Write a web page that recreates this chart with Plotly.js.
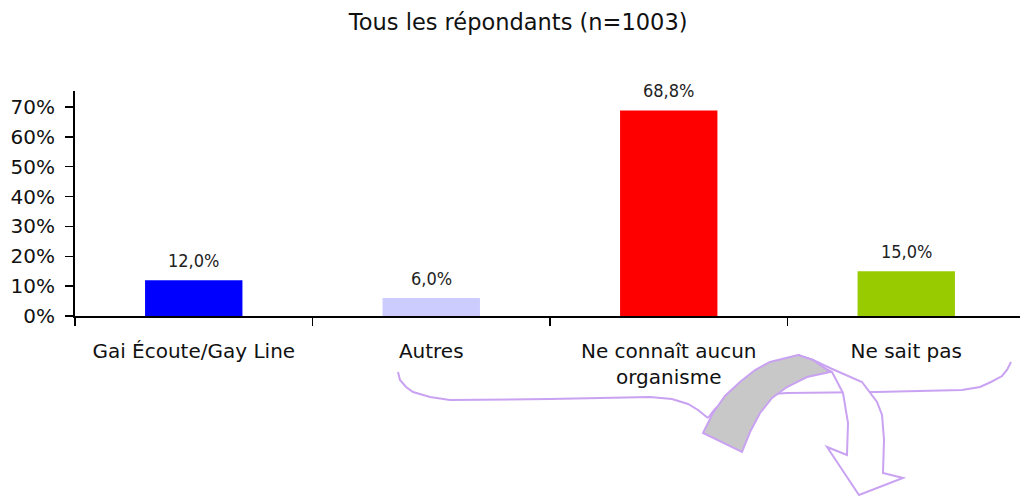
<!DOCTYPE html>
<html>
<head>
<meta charset="utf-8">
<script src="https://cdn.plot.ly/plotly-3.0.1.min.js"></script>
<style>
  html, body { margin: 0; padding: 0; background: #fff; }
  #chart { width: 1020px; height: 497px; }
</style>
</head>
<body>
<div id="chart"></div>
<script>
const categories = ['Gai Écoute/Gay Line', 'Autres', 'Ne connaît aucun<br>organisme', 'Ne sait pas'];
const values = [12.0, 6.0, 68.8, 15.0];
const barColors = ['#0000ff', '#ccccff', '#ff0000', '#99cc00'];
const yTicks = [0, 10, 20, 30, 40, 50, 60, 70];

// plot box in pixels, used to place the hand-drawn decorations
const L = 75, T = 91, W = 945, H = 225;
function px(x, y) {
    return ((x - L) / W).toFixed(4) + ',' + ((T + H - y) / H).toFixed(4);
}
function path(points, close) {
    let d = 'M' + points.map(p => px(p[0], p[1])).join(' L');
    return close ? d + ' Z' : d;
}

const lav = '#c9a2f2';

const braceLeft = [[398,372],[400,380],[406,387],[413,392],[430,397],[450,400],[550,399],[650,397],[672,399],[688,404],[698,410],[708,418]];
const braceRight = [[708,418],[715,409],[724,402],[760,395],[787,393],[876,392],[962,390],[980,387],[991,382],[1002,376],[1007,370],[1011,362]];
const greyBand = [[703,433],[713,413],[725,396],[740,382],[755,370],[770,362],[798,355],[813,360],[830,372],
                  [807,377],[787,387],[772,398],[760,413],[750,432],[742,452]];
const whiteArrow = [[798,355],[813,360],[830,368],[862,382],[877,402],[882,415],[884,440],[883,473],
                    [903,478],[859,495],[827,447],[847,455],[848,423],[843,393],[832,372]];

const shapes = [
    { type: 'path', xref: 'paper', yref: 'paper', path: path(braceLeft), line: { color: lav, width: 2 } },
    { type: 'path', xref: 'paper', yref: 'paper', path: path(braceRight), line: { color: lav, width: 2 } },
    { type: 'path', xref: 'paper', yref: 'paper', path: path(whiteArrow, true), fillcolor: '#ffffff', line: { color: lav, width: 2 } },
    { type: 'path', xref: 'paper', yref: 'paper', path: path(greyBand, true), fillcolor: '#c8c8c8', line: { color: lav, width: 2 } }
];

const annotations = categories.map((c, i) => ({
    x: c, y: values[i], xref: 'x', yref: 'y',
    text: values[i].toFixed(1).replace('.', ',') + '%',
    showarrow: false, yanchor: 'middle', yshift: 20,
    font: { family: 'DejaVu Sans Condensed, DejaVu Sans, sans-serif', size: 18, color: '#222' }
}));

const trace = {
    type: 'bar',
    x: categories,
    y: values,
    width: 0.41,
    marker: { color: barColors, line: { width: 0 } },
    hoverinfo: 'none'
};

const layout = {
    width: 1020, height: 497,
    margin: { l: L, r: 0, t: T, b: 497 - T - H },
    paper_bgcolor: '#ffffff', plot_bgcolor: '#ffffff',
    showlegend: false,
    font: { family: 'DejaVu Sans, Tahoma, sans-serif', color: '#111' },
    title: {
        text: 'Tous les répondants (n=1003)',
        x: 0.508, xanchor: 'center', y: 0.955, yanchor: 'middle',
        font: { size: 22.5, color: '#111' }
    },
    xaxis: {
        range: [-0.5, 3.479],
        showline: true, linecolor: '#000', linewidth: 2,
        ticks: 'outside', tickson: 'boundaries', ticklen: 8, tickwidth: 1.5, tickcolor: '#000',
        tickfont: { size: 20 }, ticklabelstandoff: 16,
        showgrid: false, zeroline: false, fixedrange: true
    },
    yaxis: {
        range: [0, 75.35],
        tickvals: yTicks,
        ticktext: yTicks.map(v => v + '%'),
        showline: true, linecolor: '#000', linewidth: 2,
        ticks: 'outside', ticklen: 8, tickwidth: 1.5, tickcolor: '#000',
        tickfont: { size: 20 }, ticklabelstandoff: 6,
        showgrid: false, zeroline: false, fixedrange: true
    },
    shapes: shapes,
    annotations: annotations
};

Plotly.newPlot('chart', [trace], layout, { displayModeBar: false, staticPlot: true });
</script>
</body>
</html>
